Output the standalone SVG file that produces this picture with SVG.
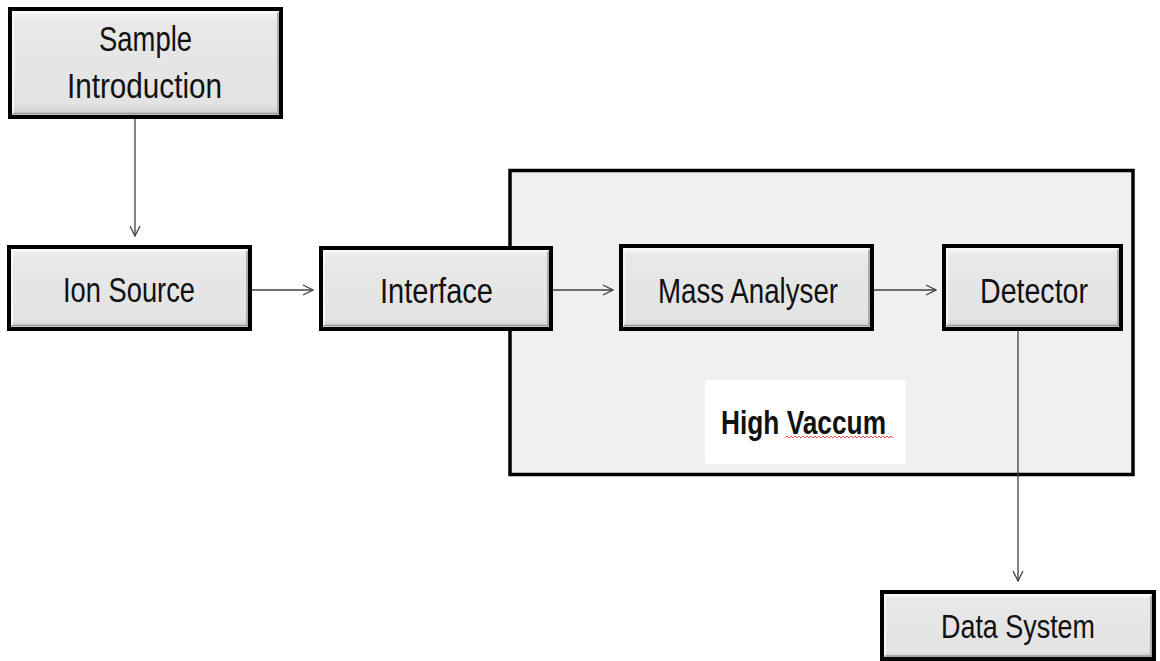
<svg xmlns="http://www.w3.org/2000/svg" width="1160" height="661" viewBox="0 0 1160 661">
  <defs>
    <linearGradient id="boxFill" x1="0" y1="0" x2="0" y2="1">
      <stop offset="0" stop-color="#f6f6f6"/>
      <stop offset="0.12" stop-color="#e8e8e8"/>
      <stop offset="0.88" stop-color="#e3e3e3"/>
      <stop offset="1" stop-color="#c8c8c8"/>
    </linearGradient>
    <marker id="arrow" viewBox="0 0 12 12" refX="11" refY="6" markerWidth="12" markerHeight="12" markerUnits="userSpaceOnUse" orient="auto">
      <path d="M1,1 L11,6 L1,11" fill="none" stroke="#404040" stroke-width="1.3"/>
    </marker>
  </defs>
  <style>
    .box { fill: url(#boxFill); stroke: #000; stroke-width: 4; }
    .bevel { fill: none; stroke: #ffffff; stroke-width: 1.5; opacity: 0.9; }
    .shade { fill: none; stroke: #9a9a9a; stroke-width: 1.5; }
    .lbl { font-family: "Liberation Sans Narrow", "Liberation Sans", Arial, sans-serif; fill: #111; text-anchor: start; }
    .big { font-size: 35px; }
    .mid { font-size: 33px; }
    .bold { font-weight: bold; font-size: 33px; }
    .conn { fill: none; stroke: #404040; stroke-width: 1.3; marker-end: url(#arrow); }
  </style>

  <rect width="1160" height="661" fill="#ffffff"/>

  <!-- vacuum enclosure -->
  <g id="high-vacuum">
    <rect x="510" y="170.5" width="623" height="304" fill="#f0f0f0" stroke="#000" stroke-width="3.5"/>
    <rect x="705" y="380" width="201" height="84" rx="3" fill="#ffffff"/>
    <text class="lbl bold" x="721" y="434" textLength="165" lengthAdjust="spacingAndGlyphs">High Vaccum</text>
    <path d="M785,438 l2,-2 l2,2 l2,-2 l2,2 l2,-2 l2,2 l2,-2 l2,2 l2,-2 l2,2 l2,-2 l2,2 l2,-2 l2,2 l2,-2 l2,2 l2,-2 l2,2 l2,-2 l2,2 l2,-2 l2,2 l2,-2 l2,2 l2,-2 l2,2 l2,-2 l2,2 l2,-2 l2,2 l2,-2 l2,2 l2,-2 l2,2 l2,-2 l2,2 l2,-2 l2,2 l2,-2 l2,2 l2,-2 l2,2 l2,-2 l2,2 l2,-2 l2,2 l2,-2 l2,2 l2,-2 l2,2 l2,-2 l2,2 l2,-2 l2,2" fill="none" stroke="#e04040" stroke-width="0.9"/>
  </g>

  <!-- connectors -->
  <g id="connectors">
    <line class="conn" x1="135" y1="119" x2="135" y2="236"/>
    <line class="conn" x1="251" y1="290" x2="313" y2="290"/>
    <line class="conn" x1="552" y1="290" x2="613" y2="290"/>
    <line class="conn" x1="873" y1="290" x2="936" y2="290"/>
    <line class="conn" x1="1018" y1="331" x2="1018" y2="581"/>
  </g>

  <g id="sample-introduction">
    <rect class="box" x="10" y="9" width="271" height="108"/>
    <path class="bevel" d="M13,113 V12.5 H278"/>
    <path class="shade" d="M13,113.5 H278 V12.5"/>
    <text class="lbl big" x="99" y="51" textLength="93" lengthAdjust="spacingAndGlyphs">Sample</text>
    <text class="lbl big" x="67" y="98" textLength="155" lengthAdjust="spacingAndGlyphs">Introduction</text>
  </g>

  <g id="ion-source">
    <rect class="box" x="9" y="247" width="241" height="82"/>
    <path class="bevel" d="M12,325 V250.5 H247"/>
    <path class="shade" d="M12,325.5 H247 V250.5"/>
    <text class="lbl big" x="63" y="302" textLength="132" lengthAdjust="spacingAndGlyphs">Ion Source</text>
  </g>

  <g id="interface">
    <rect class="box" x="321" y="248" width="230" height="81"/>
    <path class="bevel" d="M324,325 V251.5 H548"/>
    <path class="shade" d="M324,325.5 H548 V251.5"/>
    <text class="lbl big" x="380" y="303" textLength="113" lengthAdjust="spacingAndGlyphs">Interface</text>
  </g>

  <g id="mass-analyser">
    <rect class="box" x="621" y="246" width="251" height="83"/>
    <path class="bevel" d="M624,325 V249.5 H869"/>
    <path class="shade" d="M624,325.5 H869 V249.5"/>
    <text class="lbl big" x="658" y="303" textLength="180" lengthAdjust="spacingAndGlyphs">Mass Analyser</text>
  </g>

  <g id="detector">
    <rect class="box" x="944" y="246" width="177" height="83"/>
    <path class="bevel" d="M947,325 V249.5 H1118"/>
    <path class="shade" d="M947,325.5 H1118 V249.5"/>
    <text class="lbl big" x="980" y="303" textLength="108" lengthAdjust="spacingAndGlyphs">Detector</text>
  </g>

  <g id="data-system">
    <rect class="box" x="882" y="592" width="272" height="67"/>
    <path class="bevel" d="M885,656 V595.5 H1151"/>
    <path class="shade" d="M885,656 H1151 V595.5"/>
    <text class="lbl mid" x="941" y="638" textLength="154" lengthAdjust="spacingAndGlyphs">Data System</text>
  </g>
</svg>
